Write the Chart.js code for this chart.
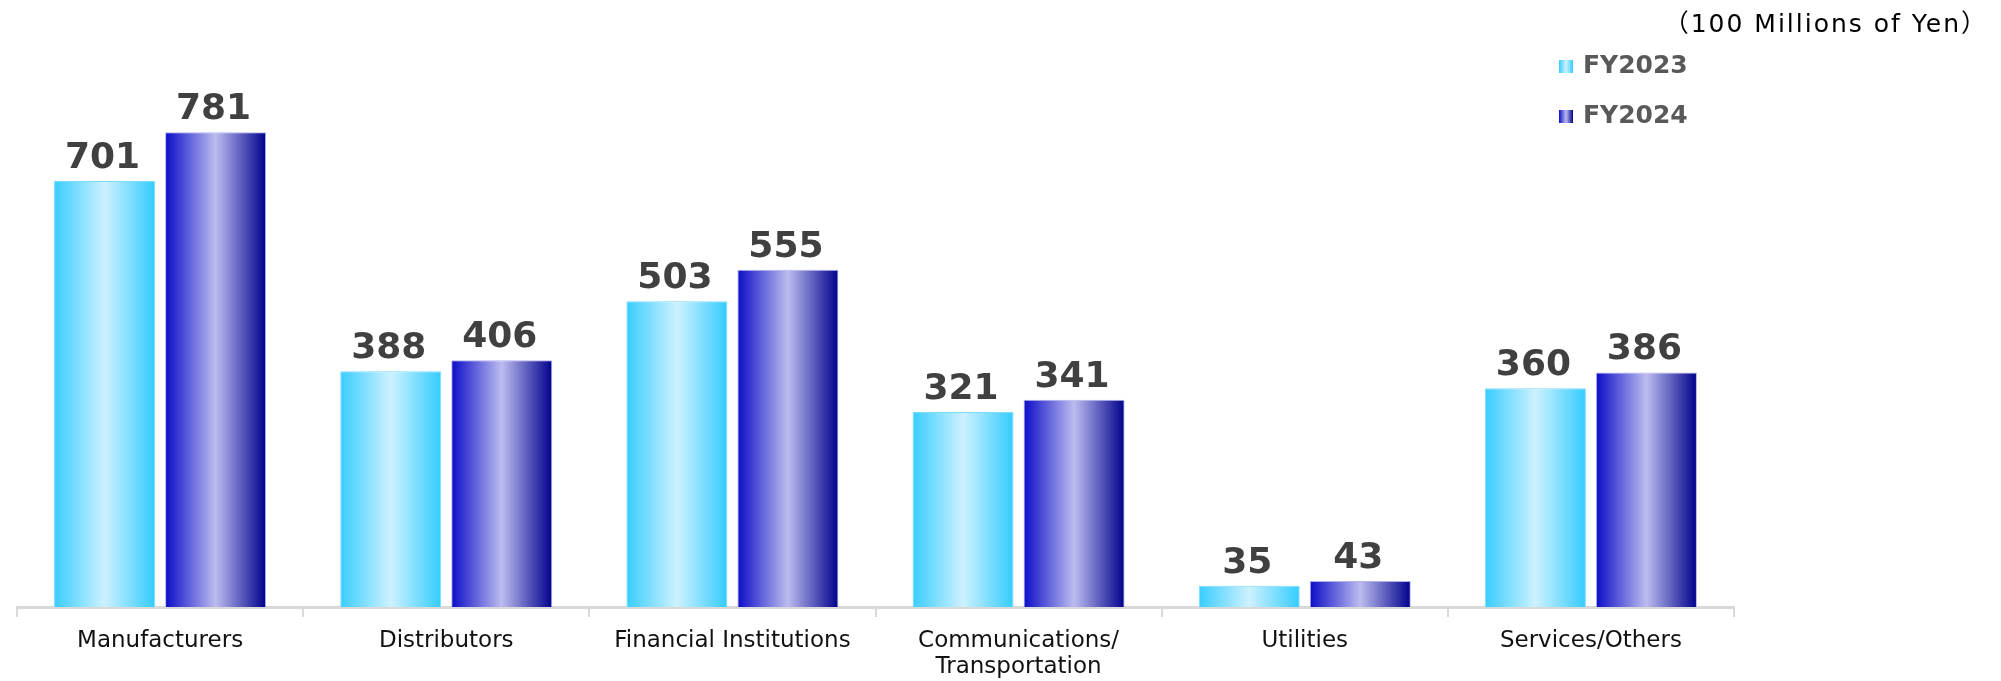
<!DOCTYPE html>
<html>
<head>
<meta charset="utf-8">
<script src="https://cdn.jsdelivr.net/npm/chart.js@4/dist/chart.umd.min.js"></script>
<style>
  html, body { margin: 0; padding: 0; background: #fff; }
  #wrap { position: relative; width: 2001px; height: 681px; }
</style>
</head>
<body>
<div id="wrap"><canvas id="sales-chart" width="2001" height="681"></canvas></div>
<script>
  'use strict';

  // Sales by industry (100 Millions of Yen)
  var categories = [
    'Manufacturers',
    'Distributors',
    'Financial Institutions',
    ['Communications/', 'Transportation'],
    'Utilities',
    'Services/Others'
  ];
  var seriesNames = ['FY2023', 'FY2024'];
  var fy2023 = [701, 388, 503, 321, 35, 360];
  var fy2024 = [781, 406, 555, 341, 43, 386];
  var unitLabel = '\uFF08100 Millions of Yen\uFF09';

  var CAT_PCT = 0.776;
  var BAR_PCT = 0.91;

  // gradient stops for the two series: edge / centre / edge
  var palettes = [
    ['#38cdff', '#cdf1ff', '#33ccff'],
    ['#0c0cc8', '#bcbcf0', '#00008c']
  ];

  function barGradient(ctx2d, x0, x1, pal) {
    var g = ctx2d.createLinearGradient(x0, 0, x1, 0);
    g.addColorStop(0, pal[0]);
    g.addColorStop(0.5, pal[1]);
    g.addColorStop(1, pal[2]);
    return g;
  }

  function barFill(context) {
    var chart = context.chart;
    var pal = palettes[context.datasetIndex];
    var xs = chart.scales.x;
    if (context.type !== 'data' || !xs || !chart.chartArea) return pal[0];
    var cat = xs.width / categories.length;
    var slot = cat * CAT_PCT / 2;
    var center = xs.getPixelForValue(context.dataIndex) + (context.datasetIndex - 0.5) * slot;
    var w = slot * BAR_PCT;
    return barGradient(chart.ctx, center - w / 2, center + w / 2, pal);
  }

  // value above every bar
  var valueLabels = {
    id: 'valueLabels',
    afterDatasetsDraw: function (chart) {
      var ctx = chart.ctx;
      ctx.save();
      ctx.font = 'bold 36px "DejaVu Sans", Verdana, sans-serif';
      ctx.fillStyle = '#404040';
      ctx.textAlign = 'center';
      ctx.textBaseline = 'alphabetic';
      chart.data.datasets.forEach(function (ds, i) {
        chart.getDatasetMeta(i).data.forEach(function (el, j) {
          ctx.fillText(String(ds.data[j]), el.x - 2, el.y - 13);
        });
      });
      ctx.restore();
    }
  };

  // unit caption and stacked legend in the top right corner
  var cornerLegend = {
    id: 'cornerLegend',
    afterDraw: function (chart) {
      var ctx = chart.ctx;
      ctx.save();
      ctx.font = '25px "DejaVu Sans", Verdana, "Noto Sans CJK JP", sans-serif';
      ctx.letterSpacing = '2px';
      ctx.fillStyle = '#000';
      ctx.textAlign = 'right';
      ctx.textBaseline = 'alphabetic';
      ctx.fillText(unitLabel, 1988, 32);
      ctx.letterSpacing = '0px';

      ctx.font = 'bold 25px "DejaVu Sans", Verdana, sans-serif';
      ctx.textAlign = 'left';
      ctx.textBaseline = 'middle';
      seriesNames.forEach(function (name, i) {
        var y = 66 + i * 50;
        ctx.fillStyle = barGradient(ctx, 1559, 1573, palettes[i]);
        ctx.fillRect(1559, y - 6, 14, 13);
        ctx.fillStyle = '#595959';
        ctx.fillText(name, 1583, y);
      });
      ctx.restore();
    }
  };

  var ctx = document.getElementById('sales-chart').getContext('2d');

  new Chart(ctx, {
    type: 'bar',
    data: {
      labels: categories,
      datasets: [
        {
          label: seriesNames[0],
          data: fy2023,
          backgroundColor: barFill,
          borderColor: 'rgba(110, 215, 255, 0.9)',
          borderWidth: 1,
          categoryPercentage: CAT_PCT,
          barPercentage: BAR_PCT
        },
        {
          label: seriesNames[1],
          data: fy2024,
          backgroundColor: barFill,
          borderColor: 'rgba(170, 170, 235, 0.9)',
          borderWidth: 1,
          categoryPercentage: CAT_PCT,
          barPercentage: BAR_PCT
        }
      ]
    },
    options: {
      responsive: false,
      animation: false,
      devicePixelRatio: 1,
      layout: { padding: { top: 60, left: 17, right: 267, bottom: -10 } },
      plugins: {
        legend: { display: false },
        tooltip: { enabled: false }
      },
      scales: {
        x: {
          offset: true,
          grid: {
            offset: true,
            drawOnChartArea: false,
            drawTicks: true,
            tickLength: 10,
            lineWidth: 2,
            color: function (c) {
              return c.index === categories.length ? 'rgba(0,0,0,0)' : '#d9d9d9';
            }
          },
          border: { display: true, color: '#d9d9d9', width: 3 },
          ticks: {
            color: '#111',
            padding: 11,
            maxRotation: 0,
            autoSkip: false,
            font: { family: '"DejaVu Sans", Verdana, sans-serif', size: 23, lineHeight: 1.13 }
          }
        },
        y: {
          display: false,
          min: 0,
          max: 900
        }
      }
    },
    plugins: [valueLabels, cornerLegend]
  });
</script>
</body>
</html>
